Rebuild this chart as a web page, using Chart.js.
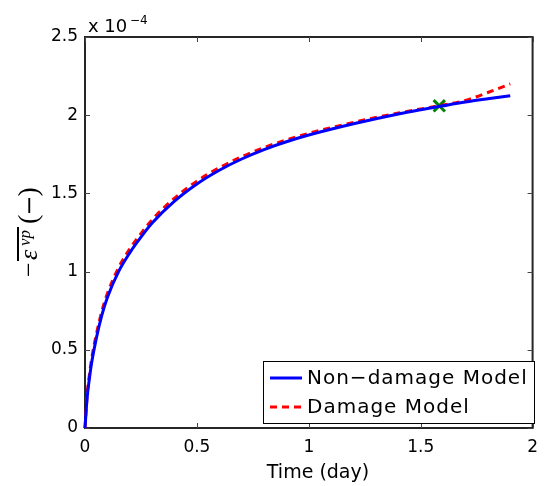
<!DOCTYPE html>
<html lang="en">
<head>
<meta charset="UTF-8" />
<title>Viscoplastic strain vs time</title>
<script src="https://cdn.jsdelivr.net/npm/chart.js"></script>
<style>
  body { margin: 0; background: #fff; }
  canvas { display: block; }
</style>
</head>
<body>
<canvas id="strainChart" width="547" height="486"></canvas>
<script>
  // time in days, strain in units of 1e-4 (see the "x 10^-4" label)
  const timeDays  = [0, 0.01, 0.02, 0.03, 0.05, 0.075, 0.1, 0.15, 0.2, 0.25, 0.3, 0.4, 0.5,
                     0.6, 0.7, 0.8, 0.9, 1.0, 1.2, 1.4, 1.5, 1.6, 1.7, 1.8, 1.9];
  const nonDamage = [0, 0.2, 0.32, 0.42, 0.57, 0.72, 0.835, 1.0, 1.12, 1.22, 1.31, 1.45, 1.56,
                     1.648, 1.72, 1.78, 1.83, 1.873, 1.945, 2.008, 2.035, 2.06, 2.084, 2.105, 2.125];
  const damage    = [0, 0.22, 0.345, 0.445, 0.595, 0.745, 0.86, 1.025, 1.145, 1.243, 1.332, 1.47, 1.578,
                     1.664, 1.735, 1.793, 1.842, 1.884, 1.954, 2.014, 2.04, 2.065, 2.095, 2.145, 2.2];
  const markerTime   = [1.583];
  const markerStrain = [2.06];
  const xTicks = [0, 0.5, 1, 1.5, 2];
  const yTicks = [0, 0.5, 1, 1.5, 2, 2.5];

  const SANS = '"DejaVu Sans", sans-serif';
  const SERIF = '"Liberation Serif", serif';

  const framePlugin = {
    id: 'frame',
    beforeDatasetsDraw(chart) {
      const { ctx, chartArea: a, scales: { x, y } } = chart;
      ctx.save();
      ctx.strokeStyle = '#262626';
      ctx.lineWidth = 2;
      ctx.strokeRect(a.left, a.top, a.right - a.left, a.bottom - a.top);
      // inward ticks on all four sides
      ctx.lineWidth = 1;
      ctx.strokeStyle = '#444';
      ctx.beginPath();
      xTicks.forEach(v => {
        const px = Math.round(x.getPixelForValue(v)) + 0.5;
        ctx.moveTo(px, a.bottom); ctx.lineTo(px, a.bottom - 5);
        ctx.moveTo(px, a.top); ctx.lineTo(px, a.top + 5);
      });
      yTicks.forEach(v => {
        const py = Math.round(y.getPixelForValue(v)) + 0.5;
        ctx.moveTo(a.left, py); ctx.lineTo(a.left + 5, py);
        ctx.moveTo(a.right, py); ctx.lineTo(a.right - 5, py);
      });
      ctx.stroke();
      ctx.restore();
    },
    afterDatasetsDraw(chart) {
      const { ctx, chartArea: a } = chart;
      ctx.save();
      ctx.fillStyle = '#000';

      // exponent label
      ctx.textBaseline = 'alphabetic';
      ctx.textAlign = 'left';
      ctx.font = '18px ' + SANS;
      ctx.fillText('x 10', a.left + 3, 32);
      ctx.font = '12px ' + SANS;
      ctx.fillText('\u22124', a.left + 45, 24);

      // x title
      ctx.font = '19px ' + SANS;
      ctx.textAlign = 'center';
      ctx.fillText('Time (day)', 318, 478);

      // y title: -overline(eps^vp) (-)
      ctx.save();
      ctx.translate(37, 277);
      ctx.rotate(-Math.PI / 2);
      ctx.textAlign = 'left';
      ctx.font = '26px ' + SERIF;
      ctx.fillText('\u2212', 0, 0);
      ctx.font = 'italic 26px ' + SERIF;
      ctx.fillText('\u03b5', 17, 0);
      ctx.font = 'italic 17px ' + SERIF;
      ctx.fillText('vp', 31, -7);
      ctx.fillRect(16, -20, 34, 2);
      ctx.font = '28px ' + SERIF;
      let u = 53;
      ctx.fillText('(', u, 0);
      u += ctx.measureText('(').width;
      ctx.font = '24px "DejaVu Serif", serif';
      ctx.fillText('\u2212', u - 1, 0);
      u += ctx.measureText('\u2212').width - 2;
      ctx.font = '28px ' + SERIF;
      ctx.fillText(')', u, 0);
      ctx.restore();

      // legend
      const lx = 263, ly = 361, lw = 271, lh = 62;
      ctx.fillStyle = '#fff';
      ctx.fillRect(lx, ly, lw, lh);
      ctx.strokeStyle = '#000';
      ctx.lineWidth = 1;
      ctx.strokeRect(lx + 0.5, ly + 0.5, lw, lh);
      const rows = [378, 407];
      chart.data.datasets.slice(0, 2).forEach((ds, i) => {
        ctx.strokeStyle = ds.borderColor;
        ctx.lineWidth = 3;
        ctx.setLineDash(ds.borderDash || []);
        ctx.beginPath();
        ctx.moveTo(270, rows[i]);
        ctx.lineTo(302, rows[i]);
        ctx.stroke();
        ctx.setLineDash([]);
        ctx.fillStyle = '#000';
        ctx.font = '20px ' + SANS;
        ctx.letterSpacing = '1px';
        ctx.textAlign = 'left';
        ctx.textBaseline = 'middle';
        ctx.fillText(ds.label, 307, rows[i] + 1);
        ctx.letterSpacing = '0px';
      });
      ctx.restore();
    }
  };

  const tickFont = { family: 'DejaVu Sans', size: 17 };

  new Chart(document.getElementById('strainChart'), {
    type: 'scatter',
    data: {
      datasets: [
        {
          label: 'Non\u2212damage Model',
          data: timeDays.map((t, i) => ({ x: t, y: nonDamage[i] })),
          showLine: true,
          borderColor: '#0000ff',
          borderWidth: 3,
          pointRadius: 0,
          cubicInterpolationMode: 'monotone',
          clip: false
        },
        {
          label: 'Damage Model',
          data: timeDays.map((t, i) => ({ x: t, y: damage[i] })),
          showLine: true,
          borderColor: '#ff0000',
          borderWidth: 3,
          borderDash: [7, 5],
          pointRadius: 0,
          cubicInterpolationMode: 'monotone',
          clip: false
        },
        {
          label: 'marker',
          data: markerTime.map((t, i) => ({ x: t, y: markerStrain[i] })),
          pointStyle: 'crossRot',
          pointRadius: 8,
          pointBorderColor: '#008000',
          pointBorderWidth: 3,
          showLine: false
        }
      ]
    },
    options: {
      responsive: false,
      animation: false,
      layout: { padding: { top: 37, right: 10, left: 0, bottom: 0 } },
      plugins: { legend: { display: false }, tooltip: { enabled: false } },
      scales: {
        x: {
          type: 'linear', min: 0, max: 2,
          afterBuildTicks: s => { s.ticks = xTicks.map(v => ({ value: v })); },
          afterFit: s => { s.height = 58; },
          grid: { display: false, drawTicks: false },
          border: { display: false },
          ticks: { padding: 9, color: '#000', font: tickFont, maxRotation: 0, callback: v => String(v) }
        },
        y: {
          type: 'linear', min: 0, max: 2.5,
          afterBuildTicks: s => { s.ticks = yTicks.map(v => ({ value: v })); },
          afterFit: s => { s.width = 85; },
          grid: { display: false, drawTicks: false },
          border: { display: false },
          ticks: { padding: 7, color: '#000', font: tickFont, callback: v => String(v) }
        }
      }
    },
    plugins: [framePlugin]
  });
</script>
</body>
</html>
